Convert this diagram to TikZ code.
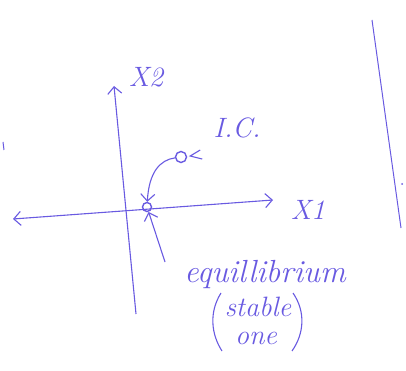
\documentclass[tikz,border=0pt]{standalone}
\usepackage{amsmath}
\usepackage{tikz}
\usetikzlibrary{arrows.meta, positioning, calc}
\usepackage{xcolor}
\definecolor{pen}{RGB}{105,90,225}
\tikzstyle{axis} = [draw=pen, line width=1.1pt, <->, >={Straight Barb[length=7pt,width=14pt]}]
\tikzstyle{arrow} = [draw=pen, line width=1.1pt, ->, >={Straight Barb[length=7pt,width=14pt]}]
\tikzstyle{stroke} = [draw=pen, line width=1.1pt]
\tikzstyle{state} = [circle, draw=pen, line width=1.4pt, minimum size=9pt, inner sep=0pt]
\tikzstyle{hand} = [text=pen, font=\itshape\fontsize{28}{30}\selectfont, inner sep=1pt]

\begin{document}
\begin{tikzpicture}[x=1pt, y=-1pt]
  \useasboundingbox (0,0) rectangle (406,371);

  % Equilibrium and initial condition
  \node[state] (eq) at (147,207) {};
  \node[state, minimum size=11pt] (ic) at (181,157) {};

  % Axis ends
  \coordinate (x1l) at (13,219);
  \coordinate (x1r) at (273,200);
  \coordinate (x2b) at (136,314);
  \coordinate (x2t) at (114,86);
  \coordinate (eqptr) at (165,262);

  % Labels
  \node[hand] (x1) at (308,210) {X1};
  \node[hand] (x2) at (146,77) {X2};
  \node[hand] (iclbl) at (237,128) {I.C.};
  \node[hand, font=\itshape\fontsize{32}{34}\selectfont] (eqlbl) at (265,274) {equillibrium};
  \node[hand] (stlbl) at (258,307) {stable};
  \node[hand] (onelbl) at (256,338) {one};

  % Axes
  \draw[axis] (x1l) -- (x1r);
  \draw[axis, -> ] (x2b) -- (x2t);

  % Flows
  \draw[arrow] (ic) .. controls (160,160) and (149,172) .. (eq);
  \draw[arrow] (eqptr) -- (eq);
  \draw[stroke] ($(ic.east)+(13,-7)$) -- ($(ic.east)+(3,-1)$) -- ($(ic.east)+(15,2)$);

  % Parentheses round stable one
  \draw[stroke] (221,293) .. controls (209,312) and (211,334) .. (222,351);
  \draw[stroke] (293,293) .. controls (306,312) and (304,334) .. (292,351);

  % Stray pen marks
  \draw[stroke, line width=1pt] (372,20) -- (401,228);
  \fill[pen] (402,184) circle (1pt);
  \draw[stroke, line width=1pt] (3,142) -- (4,150);
\end{tikzpicture}
\end{document}
